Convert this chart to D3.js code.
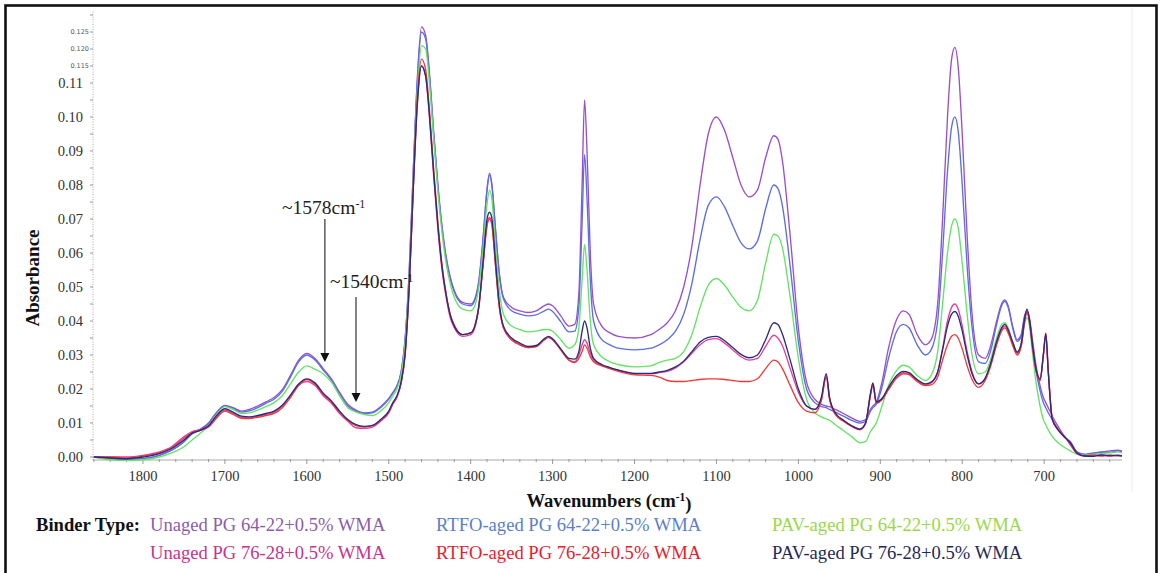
<!DOCTYPE html>
<html>
<head>
<meta charset="utf-8">
<script src="https://cdn.jsdelivr.net/npm/d3@7"></script>
<style>
html,body{margin:0;padding:0;background:#fff;}
svg{display:block;}
</style>
</head>
<body>
<svg id="chart" width="1160" height="573"></svg>
<script>
// ---- data ----
const wavenumbers = [1860,1840,1820,1800,1780,1765,1750,1740,1730,1720,1710,1700,1690,1680,1670,1660,1650,1640,1630,1620,1610,1600,1590,1580,1570,1560,1550,1540,1530,1520,1510,1500,1495,1490,1485,1480,1475,1470,1465,1460,1455,1450,1445,1440,1435,1430,1425,1420,1410,1400,1395,1390,1385,1380,1377,1374,1370,1365,1360,1350,1340,1330,1320,1310,1305,1300,1290,1280,1273,1268,1264,1261,1258,1254,1250,1240,1230,1220,1200,1180,1170,1160,1150,1140,1130,1120,1110,1100,1090,1080,1070,1060,1050,1040,1030,1025,1020,1010,1000,990,980,972,966,962,955,945,935,925,918,912,909,905,898,890,880,872,865,855,845,838,830,824,818,813,809,805,800,794,788,780,772,765,758,752,748,744,738,733,728,724,721,718,714,710,705,701,698,695,690,683,675,668,660,650,640,630,620,610,605];

const unaged6422 = [0.0000,-0.0005,-0.0008,-0.0005,0.0005,0.0020,0.0045,0.0070,0.0082,0.0100,0.0132,0.0152,0.0145,0.0135,0.0140,0.0150,0.0162,0.0175,0.0198,0.0240,0.0285,0.0305,0.0290,0.0260,0.0230,0.0190,0.0155,0.0138,0.0130,0.0132,0.0148,0.0172,0.0190,0.0210,0.0250,0.0350,0.0550,0.0850,0.1120,0.1265,0.1240,0.1120,0.0950,0.0800,0.0680,0.0590,0.0530,0.0490,0.0455,0.0450,0.0465,0.0520,0.0640,0.0790,0.0835,0.0800,0.0680,0.0540,0.0470,0.0440,0.0430,0.0425,0.0430,0.0445,0.0450,0.0445,0.0415,0.0385,0.0390,0.0480,0.0800,0.1050,0.0900,0.0600,0.0450,0.0385,0.0365,0.0355,0.0350,0.0360,0.0375,0.0395,0.0430,0.0500,0.0620,0.0800,0.0950,0.1000,0.0960,0.0880,0.0800,0.0765,0.0785,0.0880,0.0945,0.0935,0.0880,0.0650,0.0380,0.0220,0.0170,0.0155,0.0150,0.0148,0.0140,0.0128,0.0115,0.0105,0.0110,0.0140,0.0150,0.0160,0.0220,0.0320,0.0405,0.0430,0.0420,0.0360,0.0330,0.0345,0.0450,0.0700,0.1000,0.1170,0.1205,0.1150,0.0950,0.0650,0.0420,0.0300,0.0290,0.0330,0.0400,0.0450,0.0462,0.0445,0.0380,0.0345,0.0360,0.0415,0.0430,0.0410,0.0340,0.0270,0.0210,0.0175,0.0160,0.0145,0.0120,0.0090,0.0060,0.0040,0.0015,0.0005,0.0010,0.0014,0.0018,0.0020,0.0018];

const rtfo6422 = [0.0000,-0.0005,-0.0008,-0.0005,0.0005,0.0020,0.0045,0.0068,0.0080,0.0098,0.0130,0.0150,0.0143,0.0132,0.0136,0.0145,0.0158,0.0170,0.0193,0.0235,0.0280,0.0300,0.0285,0.0256,0.0226,0.0186,0.0150,0.0135,0.0128,0.0130,0.0145,0.0170,0.0188,0.0208,0.0248,0.0345,0.0545,0.0840,0.1110,0.1250,0.1230,0.1110,0.0945,0.0795,0.0675,0.0585,0.0525,0.0485,0.0450,0.0445,0.0460,0.0515,0.0635,0.0785,0.0830,0.0795,0.0675,0.0535,0.0465,0.0430,0.0420,0.0415,0.0418,0.0430,0.0435,0.0428,0.0398,0.0368,0.0370,0.0440,0.0690,0.0890,0.0760,0.0520,0.0400,0.0345,0.0330,0.0320,0.0315,0.0320,0.0330,0.0345,0.0370,0.0420,0.0510,0.0640,0.0740,0.0765,0.0735,0.0680,0.0630,0.0612,0.0635,0.0730,0.0800,0.0790,0.0745,0.0560,0.0340,0.0200,0.0160,0.0148,0.0145,0.0140,0.0132,0.0120,0.0108,0.0100,0.0105,0.0135,0.0145,0.0155,0.0205,0.0290,0.0370,0.0390,0.0380,0.0330,0.0300,0.0315,0.0400,0.0600,0.0840,0.0970,0.1000,0.0960,0.0800,0.0560,0.0380,0.0280,0.0275,0.0315,0.0390,0.0445,0.0458,0.0440,0.0375,0.0340,0.0355,0.0410,0.0428,0.0405,0.0330,0.0255,0.0195,0.0160,0.0145,0.0130,0.0110,0.0082,0.0058,0.0045,0.0015,0.0008,0.0012,0.0015,0.0014,0.0018,0.0016];

const pav6422 = [0.0000,-0.0008,-0.0010,-0.0008,0.0000,0.0012,0.0030,0.0050,0.0070,0.0092,0.0125,0.0148,0.0140,0.0128,0.0130,0.0138,0.0148,0.0160,0.0180,0.0215,0.0250,0.0268,0.0258,0.0245,0.0220,0.0180,0.0145,0.0132,0.0125,0.0122,0.0135,0.0160,0.0180,0.0200,0.0240,0.0335,0.0530,0.0820,0.1080,0.1210,0.1200,0.1090,0.0930,0.0780,0.0660,0.0570,0.0510,0.0470,0.0435,0.0430,0.0445,0.0500,0.0610,0.0745,0.0785,0.0755,0.0630,0.0490,0.0420,0.0385,0.0375,0.0368,0.0370,0.0375,0.0375,0.0370,0.0345,0.0320,0.0330,0.0380,0.0520,0.0625,0.0550,0.0400,0.0330,0.0295,0.0280,0.0272,0.0265,0.0268,0.0278,0.0285,0.0290,0.0310,0.0360,0.0440,0.0505,0.0525,0.0505,0.0470,0.0440,0.0430,0.0460,0.0570,0.0655,0.0650,0.0620,0.0470,0.0290,0.0170,0.0130,0.0118,0.0112,0.0108,0.0095,0.0078,0.0060,0.0042,0.0045,0.0075,0.0085,0.0100,0.0150,0.0210,0.0255,0.0270,0.0265,0.0240,0.0225,0.0240,0.0310,0.0450,0.0600,0.0680,0.0700,0.0675,0.0570,0.0420,0.0300,0.0245,0.0250,0.0290,0.0350,0.0390,0.0395,0.0380,0.0335,0.0310,0.0330,0.0390,0.0410,0.0385,0.0300,0.0220,0.0150,0.0110,0.0095,0.0080,0.0060,0.0042,0.0028,0.0018,0.0008,0.0005,0.0008,0.0010,0.0012,0.0015,0.0012];

const unaged7628 = [0.0000,0.0000,0.0000,0.0005,0.0015,0.0030,0.0060,0.0075,0.0080,0.0090,0.0118,0.0138,0.0128,0.0117,0.0115,0.0120,0.0125,0.0132,0.0150,0.0180,0.0212,0.0222,0.0210,0.0180,0.0158,0.0128,0.0105,0.0086,0.0084,0.0088,0.0105,0.0130,0.0155,0.0176,0.0215,0.0300,0.0500,0.0790,0.1040,0.1150,0.1120,0.0990,0.0820,0.0670,0.0550,0.0470,0.0410,0.0380,0.0355,0.0360,0.0380,0.0440,0.0560,0.0680,0.0700,0.0680,0.0570,0.0440,0.0380,0.0345,0.0330,0.0322,0.0325,0.0345,0.0352,0.0345,0.0315,0.0285,0.0280,0.0300,0.0330,0.0345,0.0335,0.0305,0.0285,0.0270,0.0262,0.0255,0.0245,0.0245,0.0248,0.0252,0.0262,0.0280,0.0305,0.0330,0.0345,0.0348,0.0335,0.0315,0.0295,0.0285,0.0290,0.0325,0.0358,0.0350,0.0330,0.0260,0.0190,0.0150,0.0140,0.0170,0.0240,0.0175,0.0130,0.0108,0.0092,0.0082,0.0100,0.0185,0.0215,0.0160,0.0170,0.0200,0.0235,0.0248,0.0245,0.0225,0.0212,0.0218,0.0250,0.0320,0.0400,0.0440,0.0450,0.0435,0.0385,0.0310,0.0250,0.0215,0.0230,0.0275,0.0335,0.0375,0.0385,0.0370,0.0330,0.0305,0.0330,0.0400,0.0430,0.0400,0.0320,0.0255,0.0225,0.0300,0.0360,0.0250,0.0110,0.0080,0.0060,0.0035,0.0010,0.0002,0.0004,0.0006,0.0003,0.0006,0.0004];

const rtfo7628 = [0.0000,0.0000,-0.0003,0.0003,0.0012,0.0028,0.0055,0.0072,0.0078,0.0088,0.0115,0.0135,0.0125,0.0114,0.0113,0.0117,0.0122,0.0128,0.0145,0.0175,0.0210,0.0228,0.0215,0.0185,0.0162,0.0132,0.0108,0.0092,0.0088,0.0092,0.0108,0.0132,0.0157,0.0178,0.0218,0.0305,0.0505,0.0800,0.1060,0.1170,0.1140,0.1010,0.0840,0.0690,0.0565,0.0480,0.0420,0.0388,0.0360,0.0365,0.0385,0.0445,0.0565,0.0685,0.0705,0.0685,0.0575,0.0440,0.0380,0.0345,0.0330,0.0322,0.0325,0.0345,0.0352,0.0345,0.0315,0.0285,0.0278,0.0290,0.0310,0.0330,0.0320,0.0295,0.0280,0.0268,0.0260,0.0252,0.0242,0.0240,0.0235,0.0225,0.0222,0.0222,0.0225,0.0228,0.0230,0.0230,0.0228,0.0225,0.0222,0.0222,0.0230,0.0260,0.0285,0.0280,0.0262,0.0210,0.0160,0.0135,0.0130,0.0165,0.0235,0.0170,0.0125,0.0105,0.0090,0.0080,0.0098,0.0180,0.0212,0.0158,0.0168,0.0198,0.0232,0.0245,0.0242,0.0222,0.0210,0.0212,0.0235,0.0285,0.0330,0.0355,0.0360,0.0350,0.0318,0.0268,0.0228,0.0205,0.0225,0.0270,0.0330,0.0370,0.0380,0.0365,0.0325,0.0300,0.0325,0.0395,0.0425,0.0398,0.0318,0.0255,0.0225,0.0300,0.0365,0.0255,0.0112,0.0082,0.0060,0.0040,0.0012,0.0003,0.0006,0.0003,0.0006,0.0004,0.0004];

const pav7628 = [0.0000,-0.0003,-0.0005,0.0000,0.0010,0.0025,0.0050,0.0070,0.0078,0.0092,0.0122,0.0142,0.0132,0.0120,0.0118,0.0122,0.0128,0.0135,0.0152,0.0182,0.0215,0.0230,0.0218,0.0188,0.0165,0.0135,0.0110,0.0095,0.0090,0.0093,0.0110,0.0135,0.0160,0.0180,0.0220,0.0305,0.0505,0.0795,0.1045,0.1150,0.1120,0.0995,0.0830,0.0680,0.0560,0.0478,0.0418,0.0385,0.0360,0.0365,0.0385,0.0445,0.0570,0.0700,0.0720,0.0700,0.0585,0.0450,0.0385,0.0350,0.0335,0.0325,0.0328,0.0348,0.0355,0.0348,0.0318,0.0290,0.0288,0.0310,0.0370,0.0400,0.0380,0.0320,0.0290,0.0272,0.0263,0.0256,0.0246,0.0246,0.0250,0.0255,0.0265,0.0282,0.0310,0.0338,0.0352,0.0355,0.0342,0.0322,0.0302,0.0292,0.0300,0.0345,0.0395,0.0390,0.0365,0.0285,0.0200,0.0150,0.0140,0.0175,0.0245,0.0175,0.0130,0.0108,0.0092,0.0082,0.0100,0.0188,0.0218,0.0162,0.0172,0.0205,0.0240,0.0252,0.0248,0.0228,0.0215,0.0220,0.0250,0.0315,0.0385,0.0420,0.0428,0.0415,0.0370,0.0300,0.0245,0.0215,0.0232,0.0278,0.0340,0.0380,0.0390,0.0375,0.0335,0.0308,0.0335,0.0405,0.0435,0.0405,0.0325,0.0260,0.0230,0.0300,0.0362,0.0250,0.0110,0.0080,0.0058,0.0042,0.0012,0.0003,0.0002,0.0006,0.0004,0.0004,0.0003];

const seriesNames = ["Unaged PG 64-22+0.5% WMA","Unaged PG 76-28+0.5% WMA","RTFO-aged PG 64-22+0.5% WMA","RTFO-aged PG 76-28+0.5% WMA","PAV-aged PG 64-22+0.5% WMA","PAV-aged PG 76-28+0.5% WMA"];
const seriesValues = [unaged6422, unaged7628, rtfo6422, rtfo7628, pav6422, pav7628];
const lineColors = ["#9a50cc","#e0409c","#5b6fe4","#f03a3a","#66e266","#2a2c7c"];
const legendColors = ["#8a5db0","#c8338e","#5b7fcb","#e8202c","#9ad84a","#1f2b57"];
const xTickValues = [1800,1700,1600,1500,1400,1300,1200,1100,1000,900,800,700];
const yTickValues = [0.00,0.01,0.02,0.03,0.04,0.05,0.06,0.07,0.08,0.09,0.10,0.11];
const ySmallTicks = [0.115,0.120,0.125];
const annotations = [{text:"~1578cm", wn:1578}, {text:"~1540cm", wn:1540}];

// ---- layout ----
const svg = d3.select("#chart");
const serif = "'Liberation Serif','Times New Roman',serif";
const x = d3.scaleLinear().domain([1861, 605]).range([93, 1122]);
const y = d3.scaleLinear().domain([0, 0.11]).range([457, 83]);

// frame
svg.append("rect").attr("x",5.5).attr("y",5.5).attr("width",1151).attr("height",580)
  .attr("fill","none").attr("stroke","#111").attr("stroke-width",2.6);
svg.append("line").attr("x1",1132).attr("x2",1132).attr("y1",8).attr("y2",492)
  .attr("stroke","#ececec").attr("stroke-width",1);

// y axis
const gy = svg.append("g");
gy.append("line").attr("x1",93).attr("x2",93).attr("y1",y(0.131)).attr("y2",460)
  .attr("stroke","#aaa").attr("stroke-width",1).attr("stroke-dasharray","1,1.5");
const yMinor = d3.range(0, 0.1301, 0.005);
gy.selectAll("line.ym").data(yMinor).join("line").attr("class","ym")
  .attr("x1",90).attr("x2",93).attr("y1",d=>y(d)).attr("y2",d=>y(d))
  .attr("stroke","#999").attr("stroke-width",1);
gy.selectAll("text.yl").data(yTickValues).join("text").attr("class","yl")
  .attr("x",83).attr("y",d=>y(d)).attr("dy","0.35em").attr("text-anchor","end")
  .attr("font-family",serif).attr("font-size",14.5).attr("fill","#333")
  .text(d=>d3.format(".2f")(d));
gy.selectAll("text.ys").data(ySmallTicks).join("text").attr("class","ys")
  .attr("x",89).attr("y",d=>y(d)).attr("dy","0.35em").attr("text-anchor","end")
  .attr("font-family","'DejaVu Sans',sans-serif").attr("font-size",6.5).attr("fill","#555")
  .text(d=>d3.format(".3f")(d));

// x axis
const gx = svg.append("g");
gx.append("line").attr("x1",93).attr("x2",1122).attr("y1",460).attr("y2",460)
  .attr("stroke","#aaa").attr("stroke-width",1);
const xMinor = d3.range(620, 1861, 20);
gx.selectAll("line.xm").data(xMinor).join("line").attr("class","xm")
  .attr("x1",d=>x(d)).attr("x2",d=>x(d)).attr("y1",459).attr("y2",d=> d%100===0 ? 464 : 462)
  .attr("stroke","#999").attr("stroke-width",1);
gx.selectAll("text.xl").data(xTickValues).join("text").attr("class","xl")
  .attr("x",d=>x(d)).attr("y",476).attr("dy","0.35em").attr("text-anchor","middle")
  .attr("font-family",serif).attr("font-size",14.5).attr("fill","#333")
  .text(d=>d);

// spectra
const line = d3.line().x(d=>x(d[0])).y(d=>y(d[1])).curve(d3.curveMonotoneX);
const order = [0,2,4,1,3,5];
svg.append("g").selectAll("path").data(order).join("path")
  .attr("d", i => line(wavenumbers.map((w,k)=>[w, seriesValues[i][k]])))
  .attr("fill","none").attr("stroke", i=>lineColors[i]).attr("stroke-width",1.35)
  .attr("stroke-linejoin","round");

// annotations
const annTextY = [207, 281];
const annLineY = [[219, 362],[297, 402]];
const annTextX = [282, 330];
annotations.forEach((a,i)=>{
  const t = svg.append("text").attr("x",annTextX[i]).attr("y",annTextY[i]).attr("dy","0.35em")
    .attr("font-family",serif).attr("font-size",19.5).attr("fill","#222");
  t.append("tspan").text(a.text);
  t.append("tspan").attr("font-size",12).attr("dy","-0.45em").text("-1");
  svg.append("line").attr("x1",x(a.wn)).attr("x2",x(a.wn)).attr("y1",annLineY[i][0]).attr("y2",annLineY[i][1]-8)
    .attr("stroke","#666").attr("stroke-width",1.6);
  svg.append("path").attr("d",`M${x(a.wn)-4.5},${annLineY[i][1]-9} L${x(a.wn)+4.5},${annLineY[i][1]-9} L${x(a.wn)},${annLineY[i][1]} Z`)
    .attr("fill","#111");
});

// axis titles
svg.append("text").attr("transform","translate(39,278) rotate(-90)").attr("text-anchor","middle")
  .attr("font-family",serif).attr("font-weight","bold").attr("font-size",19).attr("fill","#111")
  .text("Absorbance");
const xt = svg.append("text").attr("x",609).attr("y",500).attr("dy","0.35em").attr("text-anchor","middle")
  .attr("font-family",serif).attr("font-weight","bold").attr("font-size",18.6).attr("fill","#111");
xt.append("tspan").text("Wavenumbers (cm");
xt.append("tspan").attr("font-size",11.5).attr("dy","-0.5em").text("-1");
xt.append("tspan").attr("dy","0.5em").attr("font-size",18.6).text(")");

// legend
svg.append("text").attr("x",36).attr("y",524).attr("dy","0.35em")
  .attr("font-family",serif).attr("font-weight","bold").attr("font-size",18.6).attr("fill","#111")
  .text("Binder Type:");
const legX = [150, 150, 436, 436, 772, 772];
const legY = [524, 552, 524, 552, 524, 552];
svg.append("g").selectAll("text").data(seriesNames).join("text")
  .attr("x",(d,i)=>legX[i]).attr("y",(d,i)=>legY[i]).attr("dy","0.35em")
  .attr("font-family",serif).attr("font-size",18.6).attr("fill",(d,i)=>legendColors[i])
  .text(d=>d);
</script>
</body>
</html>
